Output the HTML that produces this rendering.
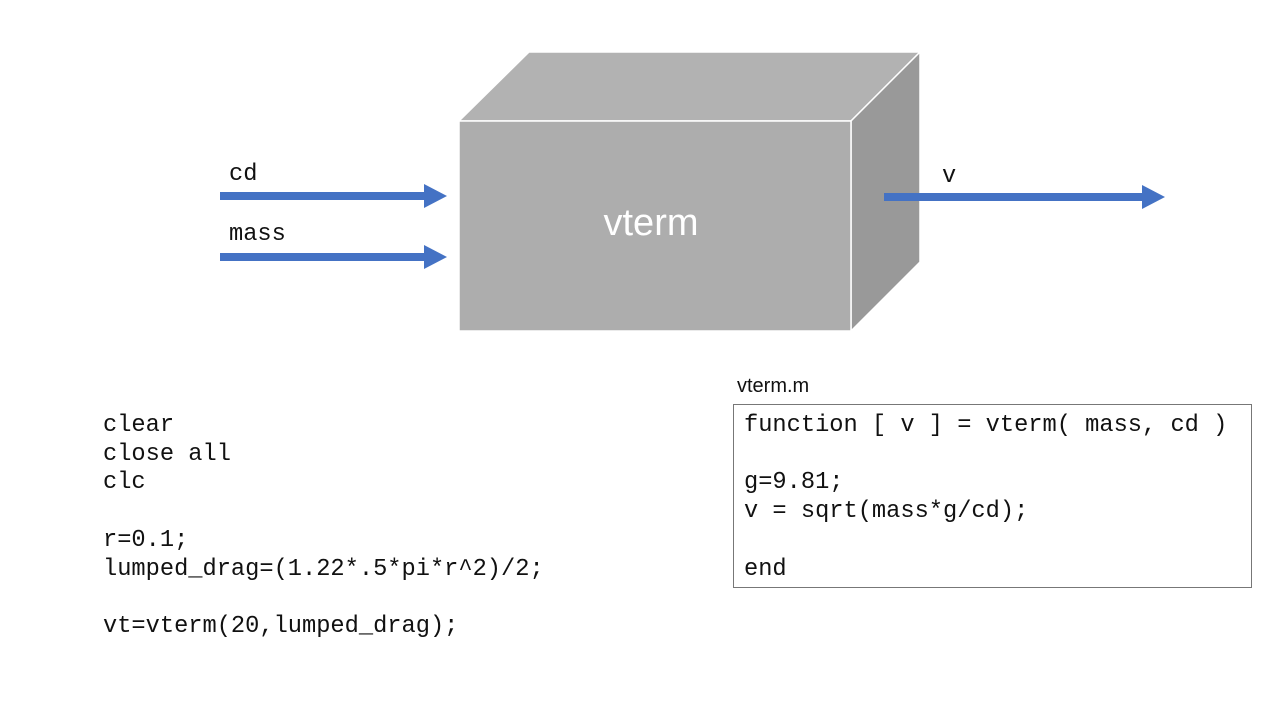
<!DOCTYPE html>
<html><head><meta charset="utf-8"><style>
body{margin:0;background:#fff;width:1280px;height:720px;overflow:hidden;position:relative}
.m{position:absolute;font-family:"Liberation Mono",monospace;font-size:23.7px;color:#111;white-space:pre;line-height:28.7px}
</style></head><body>
<svg width="1280" height="720" style="position:absolute;left:0;top:0">
<polygon points="459,121 529,52 920,52 851,121" fill="#b2b2b2" stroke="#fff" stroke-width="1.5"/>
<polygon points="851,121 920,52 920,262 851,331" fill="#999" stroke="#fff" stroke-width="1.5"/>
<rect x="459" y="121" width="392" height="210" fill="#adadad" stroke="#fff" stroke-width="1.5"/>
<text x="651" y="235" text-anchor="middle" font-family="Liberation Sans,sans-serif" font-size="38" fill="#fff">vterm</text>
<g fill="#4472c4">
<rect x="220" y="192" width="206" height="8"/><polygon points="424,184 447,196 424,208"/>
<rect x="220" y="253" width="206" height="8"/><polygon points="424,245 447,257 424,269"/>
<rect x="884" y="193" width="260" height="8"/><polygon points="1142,185 1165,197 1142,209"/>
</g>
<rect x="733.5" y="404.5" width="518" height="183" fill="none" stroke="#777" stroke-width="1"/>
<text x="737" y="392" font-family="Liberation Sans,sans-serif" font-size="20" fill="#111">vterm.m</text>
</svg>
<div class="m" style="left:229px;top:161px">cd</div>
<div class="m" style="left:229px;top:221px">mass</div>
<div class="m" style="left:942px;top:163px">v</div>
<div class="m" style="left:103px;top:412px">clear
close all
clc

r=0.1;
lumped_drag=(1.22*.5*pi*r^2)/2;

vt=vterm(20,lumped_drag);</div>
<div class="m" style="left:744px;top:412px">function [ v ] = vterm( mass, cd )

g=9.81;
v = sqrt(mass*g/cd);

end</div>
</body></html>
